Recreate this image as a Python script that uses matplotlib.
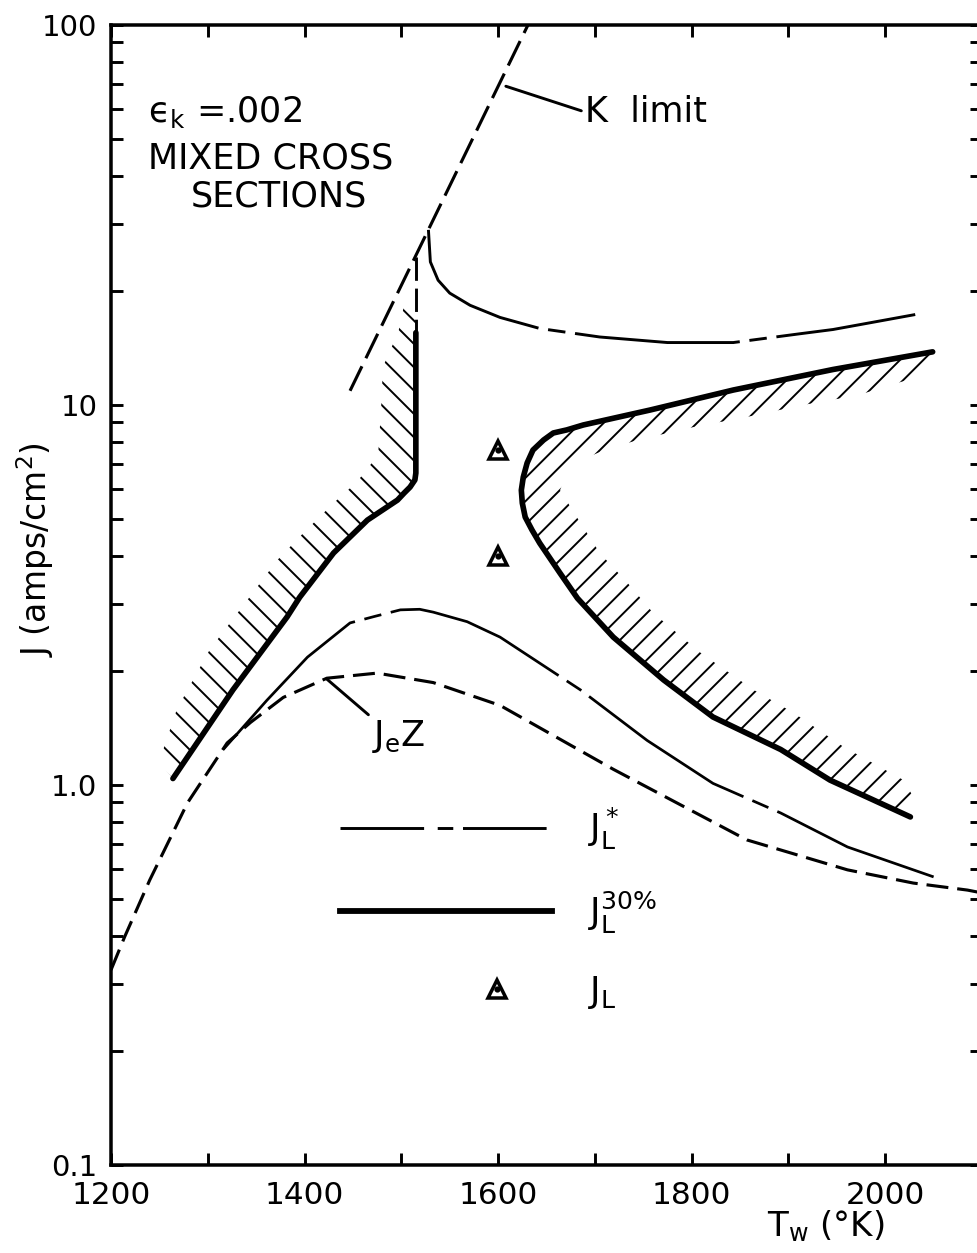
import numpy as np
import matplotlib
matplotlib.use("Agg")
import matplotlib.pyplot as plt
from matplotlib.lines import Line2D
from matplotlib.legend_handler import HandlerLine2D
from matplotlib.ticker import MultipleLocator, LogLocator, NullFormatter

# K limit (straight line on the log plot)
K_T = [1447, 1650]
K_J = [10.9, 126]

# J_L* : upper branch, short vertical piece, lower branch
JLS_UP_T = [1528, 1529, 1530, 1538, 1550, 1571, 1602, 1643, 1705, 1775, 1843, 1912, 1946, 1981, 2031]
JLS_UP_J = [28.9, 26.2, 23.8, 21.3, 19.7, 18.3, 17.0, 15.9, 15.1, 14.6, 14.6, 15.4, 15.8, 16.4, 17.3]
JLS_VERT_T = [1515, 1515]
JLS_VERT_J = [24.5, 15.5]
JLS_LOW_T = [1316, 1361, 1403, 1447, 1473, 1499, 1519, 1533, 1568, 1602, 1685, 1754, 1822, 1892,
             1961, 2050]
JLS_LOW_J = [1.24, 1.67, 2.17, 2.67, 2.78, 2.89, 2.90, 2.85, 2.69, 2.45, 1.78, 1.31, 1.01, 0.844,
             0.687, 0.573]

# J_L^30% : left and right branches
J30_LEFT_T = [1515, 1515, 1514, 1509, 1503, 1496, 1465, 1430, 1395, 1382, 1326, 1264]
J30_LEFT_J = [15.5, 6.62, 6.35, 6.08, 5.87, 5.62, 4.98, 4.08, 3.12, 2.77, 1.78, 1.04]
J30_RIGHT_T = [2049, 1946, 1843, 1757, 1688, 1671, 1657, 1647, 1636, 1630, 1626, 1624, 1625, 1628,
               1635, 1643, 1664, 1682, 1719, 1771, 1822, 1892, 1943, 2026]
J30_RIGHT_J = [13.8, 12.4, 10.95, 9.70, 8.86, 8.60, 8.44, 8.09, 7.61, 7.04, 6.46, 5.97, 5.52, 5.07,
               4.69, 4.33, 3.61, 3.10, 2.45, 1.89, 1.51, 1.24, 1.03, 0.824]

# outer edges of the hatched bands
HATCH_L_T = [1504, 1497, 1481, 1479, 1476, 1454, 1430, 1399, 1372, 1341, 1302, 1268, 1254, 1256]
HATCH_L_J = [18.9, 15.6, 12.6, 9.70, 7.39, 6.27, 5.52, 4.61, 3.91, 3.07, 2.27, 1.58, 1.24, 1.10]
HATCH_R_T = [2033, 1971, 1915, 1857, 1802, 1744, 1705, 1674, 1664, 1680, 1705, 1733, 1760, 1809,
             1864, 1905, 1957, 2019, 2029]
HATCH_R_J = [11.85, 10.6, 10.0, 9.30, 8.75, 8.09, 7.52, 6.95, 5.97, 5.13, 4.08, 3.42, 2.84, 2.23,
             1.78, 1.55, 1.26, 1.03, 0.93]

# J_eZ
JEZ_T = [1200, 1214, 1240, 1279, 1320, 1344, 1378, 1423, 1475, 1533, 1602, 1719, 1857, 1961, 2029, 2085, 2100]
JEZ_J = [0.326, 0.398, 0.562, 0.897, 1.29, 1.46, 1.70, 1.91, 1.97, 1.86, 1.62, 1.10, 0.717, 0.598,
         0.552, 0.529, 0.52]

# measured J_L
JL_T = [1600, 1600]
JL_J = [7.6, 4.0]

X_TICKS = [1200, 1400, 1600, 1800, 2000]
Y_TICKS = [0.1, 1, 10, 100]
Y_TICKLABELS = ["0.1", "1.0", "10", "100"]

DPI = 140
plt.rcParams.update({
    "font.family": ["DejaVu Sans"],
    "mathtext.default": "regular",
    "lines.scale_dashes": False,
    "hatch.linewidth": 1.0,
})


class RightMarker(HandlerLine2D):
    def get_xdata(self, legend, xdescent, ydescent, width, height, fontsize):
        x = -xdescent + 0.74 * width
        return np.array([x, x]), np.array([x])


fig = plt.figure(figsize=(977 / DPI, 1253 / DPI), dpi=DPI)
ax = fig.add_axes([111 / 977, 88 / 1253, 871 / 977, 1140 / 1253])
ax.set_yscale("log")
ax.set_xlim(1200, 2100)
ax.set_ylim(0.1, 100)

# hatched bands
ax.fill(np.r_[HATCH_L_T, J30_LEFT_T[::-1], JLS_VERT_T[:1]],
        np.r_[HATCH_L_J, J30_LEFT_J[::-1], HATCH_L_J[:1]],
        facecolor="none", edgecolor="k", lw=0, hatch="\\\\")
ax.fill(np.r_[J30_RIGHT_T, HATCH_R_T[::-1]], np.r_[J30_RIGHT_J, HATCH_R_J[::-1]],
        facecolor="none", edgecolor="k", lw=0, hatch="//")

ax.plot(K_T, K_J, color="k", lw=1.6, dashes=(14, 4.6))
ax.plot(JLS_UP_T, JLS_UP_J, color="k", lw=1.5, dashes=(85, 5, 9, 5))
ax.plot(JLS_VERT_T, JLS_VERT_J, color="k", lw=1.5, dashes=(12, 4))
ax.plot(JLS_LOW_T, JLS_LOW_J, color="k", lw=1.4, dashes=(95, 5, 9, 5))
ax.plot(J30_LEFT_T, J30_LEFT_J, color="k", lw=2.9, solid_capstyle="round", solid_joinstyle="round")
ax.plot(J30_RIGHT_T, J30_RIGHT_J, color="k", lw=2.9, solid_capstyle="round", solid_joinstyle="round")
ax.plot(JEZ_T, JEZ_J, color="k", lw=1.6, dashes=(11.3, 4.6))
tri, = ax.plot(JL_T, JL_J, ls="none", marker="^", ms=9.5, mfc="white", mec="k", mew=1.8)
dot, = ax.plot(JL_T, JL_J, ls="none", marker="o", ms=2.2, color="k")

# text
ax.text(1238, 59, "\u03f5$_k$ =.002", fontsize=18, ha="left", va="center")
ax.text(1238, 44.4, "MIXED CROSS", fontsize=18, ha="left", va="center")
ax.text(1374, 35.3, "SECTIONS", fontsize=18, ha="center", va="center")
ax.annotate("K  limit", xy=(1608, 69), xytext=(1690, 59), ha="left", va="center", fontsize=18,
            arrowprops=dict(arrowstyle="-", lw=1.5, color="k", relpos=(0, 0.5),
                            shrinkA=0, shrinkB=0))
ax.annotate("J$_e$Z", xy=(1423, 1.90), xytext=(1470, 1.50), ha="left", va="top", fontsize=18,
            arrowprops=dict(arrowstyle="-", lw=1.5, color="k", relpos=(0, 1),
                            shrinkA=0, shrinkB=0))

# legend
h_star = Line2D([], [], color="k", lw=1.5, dashes=(43, 7, 8, 5))
h_30 = Line2D([], [], color="k", lw=3.0)
ax.legend([h_star, h_30, (tri, dot)], ["$J_L^*$", r"$J_L^{30\%}$", "$J_L$"],
          handler_map={tri: RightMarker(), dot: RightMarker()},
          loc="upper left", bbox_to_anchor=(0.263, 0.315), frameon=False, fontsize=18.5,
          handlelength=5.9, handletextpad=1.0, labelspacing=1.05, borderpad=0, borderaxespad=0)

# axes styling
for s in ax.spines.values():
    s.set_linewidth(1.8)
ax.set_xticks(X_TICKS)
ax.xaxis.set_minor_locator(MultipleLocator(100))
ax.set_yticks(Y_TICKS, labels=Y_TICKLABELS)
ax.yaxis.set_minor_locator(LogLocator(base=10, subs=np.arange(2, 10)))
ax.yaxis.set_minor_formatter(NullFormatter())
ax.tick_params(which="both", direction="in", top=True, right=True, length=6, width=1.5)
ax.tick_params(axis="y", pad=7, labelsize=15)
ax.tick_params(axis="x", pad=8, labelsize=16)

ax.set_xlabel("T$_w$ (\u00b0K)", fontsize=17.5)
ax.xaxis.set_label_coords(0.82, -0.038)
ax.set_ylabel("J (amps/cm$^2$)", fontsize=17)
ax.yaxis.set_label_coords(-0.063, 0.54)

fig.savefig("out.png", dpi=DPI)
